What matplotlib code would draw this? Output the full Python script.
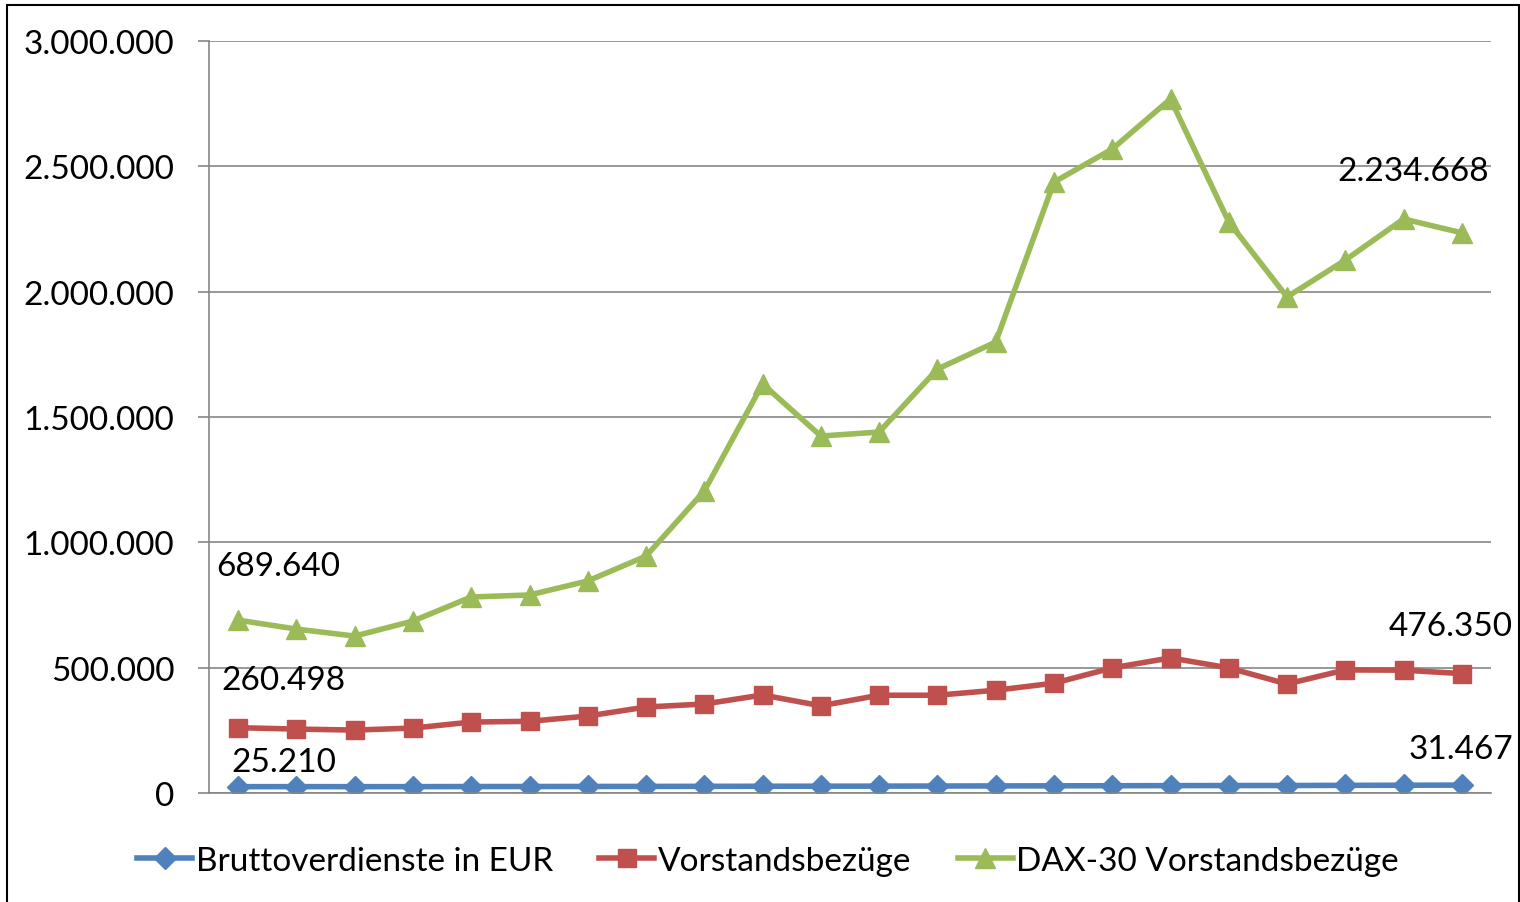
import matplotlib.pyplot as plt
from matplotlib.ticker import FuncFormatter
from matplotlib.patches import Rectangle

plt.rcParams['font.family'] = ['Lato', 'DejaVu Sans']

# 22 Jahre, keine Achsenbeschriftung auf x
idx = list(range(22))

brutto = [25210, 25400, 25300, 25400, 25700, 25900, 26100, 26300, 26600, 26900, 27100,
          27400, 27800, 28200, 28600, 29000, 29400, 29700, 29900, 30500, 31000, 31467]
vorstand = [260498, 255000, 251000, 259000, 283000, 286000, 307000, 343000, 355000, 391000, 348000,
            390000, 390000, 410000, 438000, 499000, 539000, 499000, 435000, 491000, 490000, 476350]
dax30 = [689640, 654000, 626000, 686000, 782000, 790000, 846000, 945000, 1205000, 1632000, 1424000,
         1440000, 1691000, 1799000, 2437000, 2569000, 2769000, 2278000, 1979000, 2126000, 2290000, 2234668]

names = ["Bruttoverdienste in EUR", "Vorstandsbezüge", "DAX-30 Vorstandsbezüge"]
colors = ["#4F81BD", "#C0504D", "#9BBB59"]


def de_fmt(v, pos=None):
    return f"{int(round(v)):,}".replace(",", ".")


fig = plt.figure(figsize=(15.2, 9.03), dpi=100)
ax = fig.add_axes([209 / 1520, 1 - 794 / 903, (1491 - 209) / 1520, (794 - 42) / 903])

ax.plot(idx, brutto, color=colors[0], lw=4, marker="D", ms=11, label=names[0])
ax.plot(idx, vorstand, color=colors[1], lw=4, marker="s", ms=13, label=names[1])
ax.plot(idx, dax30, color=colors[2], lw=4, marker="^", ms=14, label=names[2])

ax.set_xlim(-0.5, 21.5)
ax.set_ylim(0, 3000000)
ax.set_yticks(range(0, 3000001, 500000))
ax.yaxis.set_major_formatter(FuncFormatter(de_fmt))
ax.set_xticks([])
ax.grid(axis="y", color="#868686", lw=1.2)
ax.set_axisbelow(True)
for s in ["top", "right"]:
    ax.spines[s].set_visible(False)
for s in ["left", "bottom"]:
    ax.spines[s].set_color("#868686")
    ax.spines[s].set_linewidth(1.2)
ax.tick_params(axis="y", length=8, color="#868686", width=1.2, labelsize=24, pad=17)

# Datenbeschriftungen erster/letzter Wert
lbl = dict(textcoords="offset pixels", ha="center", va="center", fontsize=24)
ax.annotate(de_fmt(dax30[0]), (0, dax30[0]), xytext=(40, 54), **lbl)
ax.annotate(de_fmt(vorstand[0]), (0, vorstand[0]), xytext=(45, 48), **lbl)
ax.annotate(de_fmt(brutto[0]), (0, brutto[0]), xytext=(46, 25), **lbl)
ax.annotate(de_fmt(dax30[-1]), (21, dax30[-1]), xytext=(-49, 62), **lbl)
ax.annotate(de_fmt(vorstand[-1]), (21, vorstand[-1]), xytext=(-11, 48), **lbl)
ax.annotate(de_fmt(brutto[-1]), (21, brutto[-1]), xytext=(-1, 36), **lbl)

fig.legend(loc="center", bbox_to_anchor=(768 / 1520, 1 - 862 / 903), ncol=3, frameon=False,
           fontsize=24, handlelength=1.65, handletextpad=0.1, columnspacing=1.4)

fig.patches.append(Rectangle((7 / 1520, -0.1), (1519 - 7) / 1520, 1.1 - 6 / 903,
                             transform=fig.transFigure, fill=False, ec="black", lw=1.5))

fig.savefig("out.png", dpi=100)
